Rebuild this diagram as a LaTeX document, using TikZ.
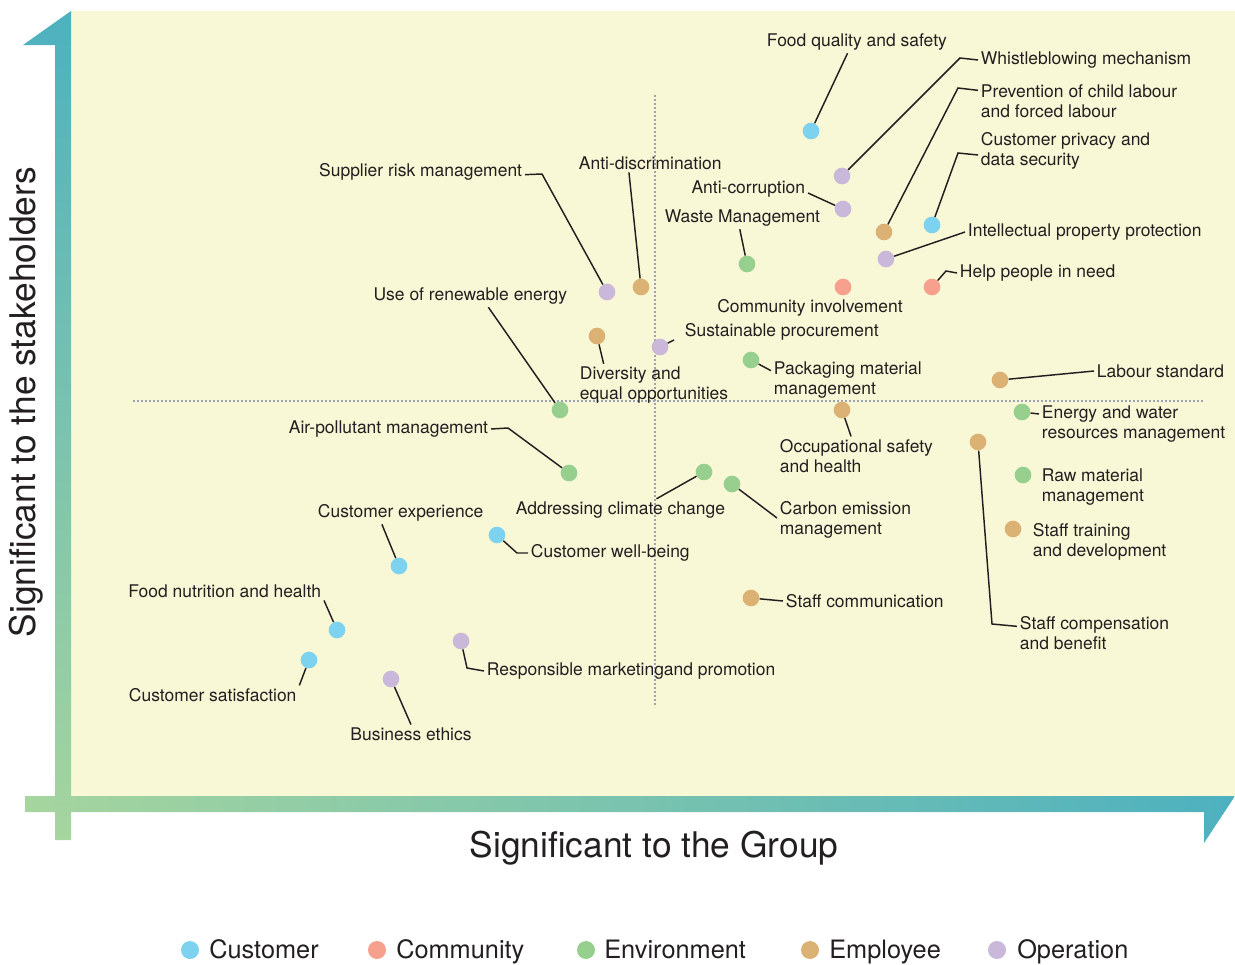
\documentclass[tikz,border=0pt]{standalone}
\usepackage{fontspec}
\setmainfont{TeX Gyre Heros}
\usepackage{tikz}
\definecolor{bg}{HTML}{F8F7D6}
\definecolor{cust}{HTML}{7DD3EF}
\definecolor{comm}{HTML}{F6A08D}
\definecolor{env}{HTML}{97CF8F}
\definecolor{emp}{HTML}{DCB274}
\definecolor{oper}{HTML}{C9B8D9}
\definecolor{axteal}{HTML}{4DB1BF}
\definecolor{axgreen}{HTML}{A6D59E}
\definecolor{ink}{HTML}{231F20}
\definecolor{gridgray}{HTML}{9CA2B6}

\begin{document}
\begin{tikzpicture}[x=0.75pt,y=-0.75pt,
	dot/.style={circle,minimum size=12.5pt,inner sep=0pt},
	cust dot/.style={dot,fill=cust},comm dot/.style={dot,fill=comm},
	env dot/.style={dot,fill=env},emp dot/.style={dot,fill=emp},
	op dot/.style={dot,fill=oper},
	lbl/.style={font=\fontsize{13.1}{15}\selectfont,text=ink,inner sep=2pt,align=left,yshift=-1.5pt},
	leader/.style={draw=ink,line width=1.1pt},
	key/.style={font=\fontsize{19}{22}\selectfont,text=ink,anchor=base west,inner sep=0pt},
	axis label/.style={font=\fontsize{26.5}{30}\selectfont,text=ink}]
	
	\useasboundingbox (0,0) rectangle (1235,964);
	\fill[bg] (71,11) rectangle (1235,796);
	\draw[gridgray,line width=1pt,dash pattern=on 1.2pt off 1.8pt] (655,95) -- (655,707);
	\draw[gridgray,line width=1pt,dash pattern=on 1.2pt off 1.8pt] (133,401) -- (1203,401);
	
	\shade[left color=axgreen,right color=axteal] (25,796) -- (1235,796) -- (1204,843) -- (1204,812) -- (25,812) -- cycle;
	\shade[top color=axteal,bottom color=axgreen] (71,11) -- (71,840) -- (55,840) -- (55,45) -- (23,45) -- cycle;
	
	\node[axis label] (xlab) at (654,848) {Significant to the Group};
	\node[axis label,rotate=90] (ylab) at (26,402) {Significant to the stakeholders};
	
	\node[cust dot] (d1) at (811,131) {};
	\node[op dot] (d2) at (842,176) {};
	\node[op dot] (d3) at (843,209) {};
	\node[emp dot] (d4) at (884,232) {};
	\node[cust dot] (d5) at (932,225) {};
	\node[op dot] (d6) at (886,259) {};
	\node[comm dot] (d7) at (932,287) {};
	\node[comm dot] (d8) at (843,287) {};
	\node[env dot] (d9) at (747,264) {};
	\node[emp dot] (d10) at (641,287) {};
	\node[op dot] (d11) at (607,292) {};
	\node[env dot] (d12) at (560,410) {};
	\node[emp dot] (d13) at (597,336) {};
	\node[op dot] (d14) at (660,347) {};
	\node[env dot] (d15) at (751,360) {};
	\node[emp dot] (d16) at (1000,380) {};
	\node[env dot] (d17) at (1022,412) {};
	\node[emp dot] (d18) at (842,410) {};
	\node[emp dot] (d19) at (978,442) {};
	\node[env dot] (d20) at (1023,475) {};
	\node[emp dot] (d21) at (1013,529) {};
	\node[env dot] (d22) at (569,473) {};
	\node[env dot] (d23) at (704,472) {};
	\node[env dot] (d24) at (732,484) {};
	\node[cust dot] (d25) at (399,566) {};
	\node[cust dot] (d26) at (497,535) {};
	\node[emp dot] (d27) at (751,598) {};
	\node[cust dot] (d28) at (337,630) {};
	\node[cust dot] (d29) at (309,660) {};
	\node[op dot] (d30) at (461,641) {};
	\node[op dot] (d31) at (391,679) {};
	
	\node[lbl,anchor=west] (t1) at (764,40) {Food quality and safety};
	\node[lbl,anchor=west] (t2) at (978,58) {Whistleblowing mechanism};
	\node[lbl,anchor=east] (t3) at (808,187) {Anti-corruption};
	\node[lbl,anchor=west] (t4) at (978,99) {Prevention of child labour\\and forced labour};
	\node[lbl,anchor=west] (t5) at (978,149) {Customer privacy and\\data security};
	\node[lbl,anchor=west] (t6) at (965,230) {Intellectual property protection};
	\node[lbl,anchor=west] (t7) at (957,271) {Help people in need};
	\node[lbl] (t8) at (810,306) {Community involvement};
	\node[lbl,anchor=east] (t9) at (823,216) {Waste Management};
	\node[lbl,anchor=west] (t10) at (576,161) {Anti-discrimination};
	\node[lbl,anchor=east] (t11) at (525,170) {Supplier risk management};
	\node[lbl,anchor=east] (t12) at (570,294) {Use of renewable energy};
	\node[lbl,anchor=west] (t13) at (577,383) {Diversity and\\equal opportunities};
	\node[lbl,anchor=west] (t14) at (682,330) {Sustainable procurement};
	\node[lbl,anchor=west] (t15) at (771,378) {Packaging material\\management};
	\node[lbl,anchor=west] (t16) at (1094,369) {Labour standard};
	\node[lbl,anchor=west] (t17) at (1039,422) {Energy and water\\resources management};
	\node[lbl,anchor=west] (t18) at (777,454) {Occupational safety\\and health};
	\node[lbl,anchor=west] (t19) at (1017,631) {Staff compensation\\and benefit};
	\node[lbl,anchor=west] (t20) at (1039,485) {Raw material\\management};
	\node[lbl,anchor=west] (t21) at (1030,540) {Staff training\\and development};
	\node[lbl,anchor=east] (t22) at (491,427) {Air-pollutant management};
	\node[lbl,anchor=west] (t23) at (513,508) {Addressing climate change};
	\node[lbl,anchor=west] (t24) at (777,518) {Carbon emission\\management};
	\node[lbl,anchor=west] (t25) at (315,511) {Customer experience};
	\node[lbl,anchor=west] (t26) at (528,551) {Customer well-being};
	\node[lbl,anchor=west] (t27) at (783,599) {Staff communication};
	\node[lbl,anchor=east] (t28) at (324,589) {Food nutrition and health};
	\node[lbl,anchor=west] (t29) at (126,693) {Customer satisfaction};
	\node[lbl,anchor=west] (t30) at (484,669) {Responsible marketingand promotion};
	\node[lbl] (t31) at (411,732) {Business ethics};
	
	\draw[leader] (d1) -- ([xshift=-7pt]t1.south);
	\draw[leader] (d2) -- (960,58) -- (t2.west);
	\draw[leader] (d3) -- ([yshift=-3pt]t3.east);
	\draw[leader] (d4) -- (958,88) -- ([yshift=8pt]t4.west);
	\draw[leader] (d5) -- (958,153) -- ([yshift=-3pt]t5.west);
	\draw[leader] (d6) -- (t6.west);
	\draw[leader] (d7) -- (946,271) -- (t7.west);
	\draw[leader] (d9) -- ([xshift=-2pt]t9.south);
	\draw[leader] (d10) -- ([xshift=-16pt]t10.south);
	\draw[leader] (d11) -- (542,174) -- ([yshift=-2pt]t11.east);
	\draw[leader] (d12) -- ([xshift=13.5pt]t12.south);
	\draw[leader] (d13) -- ([xshift=20pt]t13.north west);
	\draw[leader] (d14) -- ([xshift=-6pt,yshift=-6pt]t14.west);
	\draw[leader] (d15) -- ([yshift=7pt]t15.west);
	\draw[leader] (d16) -- (t16.west);
	\draw[leader] (d17) -- ([yshift=7.5pt]t17.west);
	\draw[leader] (d18) -- ([xshift=-4pt]t18.north);
	\draw[leader] (d19) -- (992,624) -- ([yshift=5pt]t19.west);
	\draw[leader] (d22) -- (508,428) -- (t22.east);
	\draw[leader] (d23) -- ([xshift=27pt]t23.north);
	\draw[leader] (d24) -- ([yshift=1.5pt]t24.west);
	\draw[leader] (d25) -- ([xshift=-14pt]t25.south);
	\draw[leader] (d26) -- (517,553) -- (t26.west);
	\draw[leader] (d27) -- (t27.west);
	\draw[leader] (d28) -- (t28.south east);
	\draw[leader] (d29) -- (t29.north east);
	\draw[leader] (d30) -- (467,668) -- (t30.west);
	\draw[leader] (d31) -- (t31.north);
	
	\node[cust dot,minimum size=13.5pt] (k1) at (190,950) {};
	\node[key] (l1) at (209,958) {Customer};
	\node[comm dot,minimum size=13.5pt] (k2) at (377,950) {};
	\node[key] (l2) at (396,958) {Community};
	\node[env dot,minimum size=13.5pt] (k3) at (586,950) {};
	\node[key] (l3) at (604,958) {Environment};
	\node[emp dot,minimum size=13.5pt] (k4) at (810,950) {};
	\node[key] (l4) at (829,958) {Employee};
	\node[op dot,minimum size=13.5pt] (k5) at (997,950) {};
	\node[key] (l5) at (1017,958) {Operation};
	
\end{tikzpicture}
\end{document}
